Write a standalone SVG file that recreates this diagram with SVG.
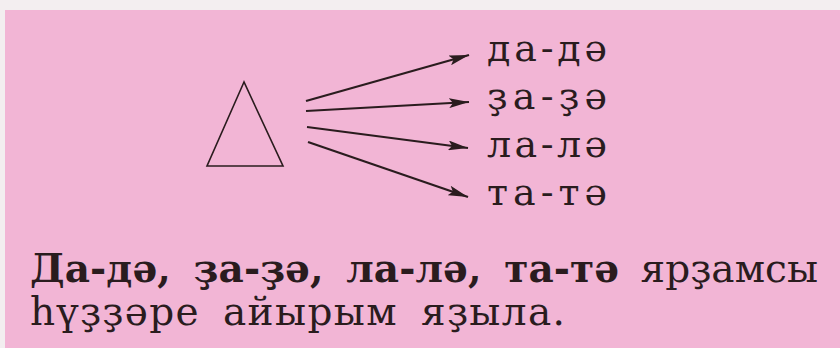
<svg xmlns="http://www.w3.org/2000/svg" width="840" height="348" viewBox="0 0 840 348">
<defs>
<marker id="ah" viewBox="0 0 20 10" refX="20" refY="5" markerWidth="20" markerHeight="10" markerUnits="userSpaceOnUse" orient="auto">
<path d="M0,0 L20,5 L0,10 L4,5 Z" fill="#2a1c1e"/>
</marker>
<style>
.lbl{font-family:"DejaVu Serif","Liberation Serif",serif;font-size:38px;fill:#2a1c1e}
.body{font-family:"DejaVu Serif","Liberation Serif",serif;font-size:39px;fill:#2a1c1e;word-spacing:9px}
.b{font-weight:bold}
.arr{stroke:#2a1c1e;stroke-width:2.2;fill:none;marker-end:url(#ah)}
</style>
</defs>
<rect x="0" y="0" width="840" height="348" fill="#f3eef0"/>
<rect x="5" y="10" width="835" height="338" fill="#f2b5d5"/>
<g id="triangle">
<polygon points="244,82 207,166 283,166" fill="none" stroke="#2a1c1e" stroke-width="1.6"/>
</g>
<g id="connectors">
<line class="arr" x1="306" y1="101" x2="469" y2="55"/>
<line class="arr" x1="306" y1="111" x2="469" y2="102"/>
<line class="arr" x1="307" y1="127" x2="468" y2="148"/>
<line class="arr" x1="308" y1="142" x2="468" y2="197"/>
</g>
<g id="n1"><text class="lbl" x="487" y="61" textLength="120" lengthAdjust="spacing">да-дә</text></g>
<g id="n2"><text class="lbl" x="487" y="109" textLength="120" lengthAdjust="spacing">ҙа-ҙә</text></g>
<g id="n3"><text class="lbl" x="487" y="157" textLength="120" lengthAdjust="spacing">ла-лә</text></g>
<g id="n4"><text class="lbl" x="487" y="205" textLength="120" lengthAdjust="spacing">та-тә</text></g>
<g id="caption">
<text class="body" x="30" y="282" textLength="788" lengthAdjust="spacing"><tspan class="b">Да-дә, ҙа-ҙә, ла-лә, та-тә</tspan>  ярҙамсы</text>
<text class="body" x="30" y="325" textLength="535" lengthAdjust="spacing">һүҙҙәре айырым яҙыла.</text>
</g>
</svg>
